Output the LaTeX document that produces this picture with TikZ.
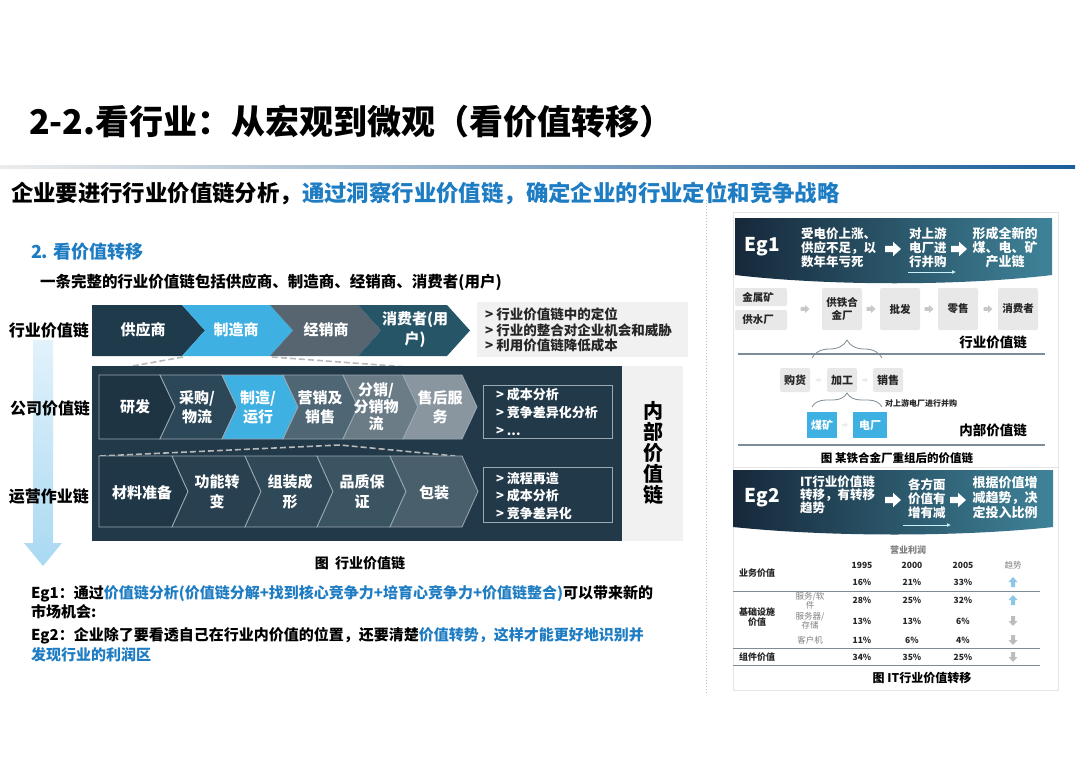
\documentclass[tikz,border=0pt]{standalone}
\usepackage{fontspec}
\setmainfont{Noto Sans CJK SC}
\usetikzlibrary{arrows.meta,decorations.pathreplacing}

\definecolor{tblue}{HTML}{1E7CC3}
\definecolor{lineblue}{HTML}{1B5E9B}
\definecolor{rdark}{HTML}{1F3A4B}
\definecolor{rlblue}{HTML}{3EB0E2}
\definecolor{rgray}{HTML}{56656F}
\definecolor{rteal}{HTML}{255567}
\definecolor{panel}{HTML}{22394A}
\definecolor{boxgray}{HTML}{F1F1F1}
\definecolor{cA}{HTML}{1E3443}
\definecolor{cB}{HTML}{2C4757}
\definecolor{cD}{HTML}{4F6674}
\definecolor{cE}{HTML}{6B7C87}
\definecolor{cF}{HTML}{8996A0}
\definecolor{dA}{HTML}{1F3746}
\definecolor{dB}{HTML}{28404F}
\definecolor{dC}{HTML}{2F4958}
\definecolor{dD}{HTML}{3A5462}
\definecolor{dE}{HTML}{4A5F6C}
\definecolor{cline}{HTML}{9AAAB4}
\definecolor{arrowA}{HTML}{E2F2FB}
\definecolor{arrowB}{HTML}{A9D9F2}
\definecolor{banA}{HTML}{16283A}
\definecolor{banB}{HTML}{3F8399}
\definecolor{chainbox}{HTML}{E8E8E8}
\definecolor{chainarr}{HTML}{C8C8C8}
\definecolor{txtdark}{HTML}{262626}
\definecolor{rulec}{HTML}{7D8C97}
\definecolor{upblue}{HTML}{8CC8E6}
\definecolor{dngray}{HTML}{BDBDBD}

\newcommand\fsz[2]{\fontsize{#1}{#2}\selectfont}
% xl, xr, depth, ytop, ybot, style, notch(0/1)
\newcommand\chev[7]{%
  \path[#6] (#1,#4) -- (#2,#4) -- ({#2+#3},{(#4+#5)/2}) -- (#2,#5) -- (#1,#5) -- ({#1+#7*#3},{(#4+#5)/2}) -- cycle;}
% right block arrow: cx, cy, half-size, color
\newcommand\rarr[4]{%
  \fill[#4] ({#1-#3},{#2-0.4*#3}) -- (#1,{#2-0.4*#3}) -- (#1,{#2-0.9*#3}) -- ({#1+#3},#2) -- (#1,{#2+0.9*#3}) -- (#1,{#2+0.4*#3}) -- ({#1-#3},{#2+0.4*#3}) -- cycle;}
% vertical block arrow: cx, cy, half-size, color, dir (+1 down, -1 up)
\newcommand\varr[5]{%
  \fill[#4] ({#1-0.4*#3},{#2-#5*#3}) -- ({#1+0.4*#3},{#2-#5*#3}) -- ({#1+0.4*#3},#2) -- ({#1+0.9*#3},#2) -- (#1,{#2+#5*#3}) -- ({#1-0.9*#3},#2) -- ({#1-0.4*#3},#2) -- cycle;}

\begin{document}
\begin{tikzpicture}[x=1pt,y=-1pt,
  every node/.style={inner sep=0pt,outer sep=0pt},
  chevtxt/.style={text=white,align=center,font=\fsz{15}{19}\bfseries},
  rowlab/.style={font=\fsz{16}{19}\bfseries,text=black},
  bantxt/.style={text=white,font=\fsz{12.5}{14}\bfseries},
  chainbx/.style={fill=chainbox,rounded corners=2pt},
  chaintxt/.style={text=txtdark,align=center,font=\fsz{10.5}{13}\bfseries},
  tval/.style={text=txtdark,font=\fsz{8.5}{10}\bfseries},
  tlab/.style={text=txtdark,align=center,font=\fsz{9}{9.5}\bfseries},
  tmid/.style={text=gray,align=center,font=\fsz{8.5}{9}},
  trule/.style={draw=rulec,line width=1}]
\useasboundingbox (0,0) rectangle (1080,763);
\fill[white] (0,0) rectangle (1080,763);

% ---------- title ----------
\node[anchor=west,font=\fsz{34}{40}\bfseries] (title) at (29,122) {2-2.看行业：从宏观到微观（看价值转移）};
\shade[left color=gray!15,right color=lineblue] (0,165.5) rectangle (1075,168.5);
\node[anchor=west,font=\fsz{22.4}{28}\bfseries] (sub) at (11,193) {企业要进行行业价值链分析，\textcolor{tblue}{通过洞察行业价值链，确定企业的行业定位和竞争战略}};

% ---------- left part ----------
\node[anchor=west,text=tblue,font=\fsz{18}{22}\bfseries] (h2) at (31,252) {2. 看价值转移};
\node[anchor=west,font=\fsz{15.5}{19}\bfseries] (intro) at (40,282) {一条完整的行业价值链包括供应商、制造商、经销商、消费者(用户)};

% vertical arrow
\shade[top color=arrowA,bottom color=arrowB] (33,340) -- (53,340) -- (53,543) -- (62,543) -- (43,566) -- (24,543) -- (33,543) -- cycle;

\node[rowlab] (lab1) at (49,330) {行业价值链};
\node[rowlab] (lab2) at (50,408) {公司价值链};
\node[rowlab] (lab3) at (49,497) {运营作业链};

% row 1 : industry chain
\chev{92}{182}{23}{305}{356}{fill=rdark}{0}
\chev{182}{270}{23}{305}{356}{fill=rlblue}{1}
\chev{270}{358}{23}{305}{356}{fill=rgray}{1}
\chev{358}{447}{23}{305}{356}{fill=rteal}{1}
\node[chevtxt] (s1) at (143,330) {供应商};
\node[chevtxt] (s2) at (236,330) {制造商};
\node[chevtxt] (s3) at (326,330) {经销商};
\node[chevtxt,font=\fsz{15}{20}\bfseries] (s4) at (415,330) {消费者(用\\户)};

\fill[boxgray] (477,302) rectangle (688,357);
\node[anchor=west,align=left,text=txtdark,font=\fsz{13.5}{15.5}\bfseries] (bul1) at (485,330) {> 行业价值链中的定位\\> 行业的整合对企业机会和威胁\\> 利用价值链降低成本};

% zoom dashed lines
\draw[gray!55,line width=1.6,dash pattern=on 6pt off 3pt] (183,357) -- (110,370);
\draw[gray!55,line width=1.6,dash pattern=on 6pt off 3pt] (272,357) -- (475,372);

% big panel
\fill[panel] (92,366) rectangle (622,541);
\fill[boxgray] (622,366) rectangle (683,541);
\node[align=center,font=\fsz{20}{21}\bfseries] (inner) at (653,453) {内\\部\\价\\值\\链};

% row 2 : company chain
\chev{99}{160}{15}{375}{439}{fill=cA,draw=cline,line width=0.8}{0}
\chev{160}{222}{15}{375}{439}{fill=cB,draw=cline,line width=0.8}{1}
\chev{222}{283}{15}{375}{439}{fill=rlblue,draw=cline,line width=0.8}{1}
\chev{283}{343}{15}{375}{439}{fill=cD,draw=cline,line width=0.8}{1}
\chev{343}{403}{15}{375}{439}{fill=cE,draw=cline,line width=0.8}{1}
\chev{403}{462}{15}{375}{439}{fill=cF,draw=cline,line width=0.8}{1}
\node[chevtxt] (p1) at (135,407) {研发};
\node[chevtxt] (p2) at (197,407) {采购/\\物流};
\node[chevtxt] (p3) at (258,407) {制造/\\运行};
\node[chevtxt] (p4) at (320,407) {营销及\\销售};
\node[chevtxt,font=\fsz{15}{17}\bfseries] (p5) at (376,407) {分销/\\分销物\\流};
\node[chevtxt] (p6) at (440,407) {售后服\\务};
\draw[cline,line width=1] (483,385) rectangle (612,438);
\node[anchor=west,align=left,text=white,font=\fsz{13}{18}\bfseries] (b2) at (496,412) {> 成本分析\\> 竞争差异化分析\\> ...};

% dashed zoom between rows
\draw[gray!55,line width=1.6,dash pattern=on 6pt off 3pt] (100,456) -- (340,445) -- (455,456);

% row 3 : operations chain
\chev{99}{172}{16}{456}{527}{fill=dA,draw=cline,line width=0.8}{0}
\chev{172}{245}{16}{456}{527}{fill=dB,draw=cline,line width=0.8}{1}
\chev{245}{317}{16}{456}{527}{fill=dC,draw=cline,line width=0.8}{1}
\chev{317}{390}{16}{456}{527}{fill=dD,draw=cline,line width=0.8}{1}
\chev{390}{462}{16}{456}{527}{fill=dE,draw=cline,line width=0.8}{1}
\node[chevtxt] (o1) at (142,493) {材料准备};
\node[chevtxt,font=\fsz{15}{20}\bfseries] (o2) at (217,492) {功能转\\变};
\node[chevtxt,font=\fsz{15}{20}\bfseries] (o3) at (290,492) {组装成\\形};
\node[chevtxt,font=\fsz{15}{20}\bfseries] (o4) at (362,492) {品质保\\证};
\node[chevtxt] (o5) at (434,493) {包装};
\draw[cline,line width=1] (483,467) rectangle (612,522);
\node[anchor=west,align=left,text=white,font=\fsz{13}{17.5}\bfseries] (b3) at (496,496) {> 流程再造\\> 成本分析\\> 竞争差异化};

\node[font=\fsz{14}{17}\bfseries] (cap1) at (360,563) {图\ \ 行业价值链};

\node[anchor=west,font=\fsz{15}{19}\bfseries] (eg1a) at (31,594) {Eg1：通过\textcolor{tblue}{价值链分析(价值链分解+找到核心竞争力+培育心竞争力+价值链整合)}可以带来新的};
\node[anchor=west,font=\fsz{15}{19}\bfseries] (eg1b) at (31,612) {市场机会:};
\node[anchor=west,font=\fsz{15}{19}\bfseries] (eg2a) at (31,636) {Eg2：企业除了要看透自己在行业内价值的位置，还要清楚\textcolor{tblue}{价值转势，这样才能更好地识别并}};
\node[anchor=west,font=\fsz{15}{19}\bfseries,text=tblue] (eg2b) at (31,655) {发现行业的利润区};

% ---------- right part ----------
\draw[gray!50,line width=1,dotted] (706,200) -- (706,695);
\draw[gray!20,line width=0.8] (733,212) rectangle (1058,467);
\draw[gray!20,line width=0.8] (733,467) rectangle (1058,690);

% Eg1 banner
\shade[left color=banA,right color=banB] (735,218) -- (1052,218) -- (1052,275) .. controls (960,286) and (830,286) .. (735,275) -- cycle;
\node[text=white,font=\fsz{19}{22}\bfseries] (eg1) at (762,247) {Eg1};
\node[bantxt,anchor=west,align=left] (e1t1) at (801,248) {受电价上涨、\\供应不足，以\\数年年亏死};
\rarr{893}{249}{8}{white}
\node[bantxt,anchor=west,align=left] (e1t2) at (909,248) {对上游\\电厂进\\行并购};
\rarr{959}{249}{8}{white}
\node[bantxt,align=center,font=\fsz{13}{14}\bfseries] (e1t3) at (1005,248) {形成全新的\\煤、电、矿\\产业链};
\coordinate (e1s) at (908,272);
\coordinate (e1e) at (956,272);
\draw[white!80!cyan,line width=0.8,-{Latex[length=4pt,width=4pt]}] (e1s) -- (e1e);

% industry chain in Eg1
\fill[chainbx] (735,288) rectangle (787,306);
\fill[chainbx] (735,310) rectangle (787,330);
\fill[chainbx] (822,288) rectangle (862,330);
\fill[chainbx] (880,288) rectangle (920,330);
\fill[chainbx] (938,288) rectangle (978,330);
\fill[chainbx] (998,288) rectangle (1038,330);
\node[chaintxt] (m1) at (758,297) {金属矿};
\node[chaintxt] (m2) at (758,320) {供水厂};
\node[chaintxt] (m3) at (842,309) {供铁合\\金厂};
\node[chaintxt] (m4) at (900,309) {批发};
\node[chaintxt] (m5) at (958,309) {零售};
\node[chaintxt] (m6) at (1018,309) {消费者};
\rarr{805}{309}{4.5}{chainarr}
\rarr{871}{309}{4.5}{chainarr}
\rarr{929}{309}{4.5}{chainarr}
\rarr{988}{309}{4.5}{chainarr}
\node[font=\fsz{13.5}{16}\bfseries] (ivc) at (993,342) {行业价值链};
\draw[decorate,decoration={brace,amplitude=18pt},rulec,line width=0.8] (812,358) -- (882,358);
\draw[rulec,line width=1.2] (738,354) -- (1045,354);

% internal chain in Eg1
\fill[chainbx] (780,368) rectangle (810,392);
\fill[chainbx] (827,368) rectangle (857,392);
\fill[chainbx] (873,368) rectangle (903,392);
\node[chaintxt,font=\fsz{11}{13}\bfseries] (n1) at (795,380) {购货};
\node[chaintxt,font=\fsz{11}{13}\bfseries] (n2) at (842,380) {加工};
\node[chaintxt,font=\fsz{11}{13}\bfseries] (n3) at (888,380) {销售};
\rarr{818.5}{380}{3}{gray!15}
\rarr{865}{380}{3}{gray!15}
\draw[decorate,decoration={brace,amplitude=14pt},rulec,line width=0.8] (812,407) -- (882,407);
\node[anchor=west,font=\fsz{8}{10}\bfseries,text=txtdark] (acq) at (885,403) {对上游电厂进行并购};
\fill[rlblue] (807,412) rectangle (837,438);
\fill[rlblue] (853,412) rectangle (887,438);
\node[chaintxt,text=white,font=\fsz{11}{13}\bfseries] (k1) at (822,425) {煤矿};
\node[chaintxt,text=white,font=\fsz{11}{13}\bfseries] (k2) at (870,425) {电厂};
\rarr{845}{425}{3}{gray!15}
\node[font=\fsz{13.5}{16}\bfseries] (invc) at (993,430) {内部价值链};
\draw[rulec,line width=1.2] (738,445) -- (1045,445);
\node[font=\fsz{11.5}{14}\bfseries] (cap2) at (897,458) {图\ 某铁合金厂重组后的价值链};

% Eg2 banner
\shade[left color=banA,right color=banB] (733,470) -- (1053,470) -- (1053,527) .. controls (960,537) and (830,537) .. (733,527) -- cycle;
\node[text=white,font=\fsz{19}{22}\bfseries] (eg2) at (762,498) {Eg2};
\node[bantxt,anchor=west,align=left,font=\fsz{12.5}{13}\bfseries] (e2t1) at (800,495) {IT行业价值链\\转移，有转移\\趋势};
\rarr{893}{500}{8}{white}
\node[bantxt,anchor=west,align=left,font=\fsz{12.5}{14}\bfseries] (e2t2) at (908,499) {各方面\\价值有\\增有减};
\rarr{958}{500}{8}{white}
\node[bantxt,align=center,font=\fsz{13}{15}\bfseries] (e2t3) at (1005,498) {根据价值增\\减趋势，决\\定投入比例};
\coordinate (e2s) at (903,525);
\coordinate (e2e) at (951,525);
\draw[white!80!cyan,line width=0.8,-{Latex[length=4pt,width=4pt]}] (e2s) -- (e2e);

% table
\node[text=gray,font=\fsz{9}{10}\bfseries] (th) at (908,550) {营业利润};
\node[tval] (y1) at (862,565) {1995};
\node[tval] (y2) at (912,565) {2000};
\node[tval] (y3) at (963,565) {2005};
\node[tmid] (y4) at (1013,565) {趋势};
\node[tlab] (l1) at (757,573) {业务价值};
\node[tval] (v11) at (862,582) {16\%};
\node[tval] (v12) at (912,582) {21\%};
\node[tval] (v13) at (963,582) {33\%};
\varr{1013}{582}{5}{upblue}{-1}
\draw[trule] (733,591) -- (1040,591);
\node[tmid] (l2a) at (810,601) {服务/软\\件};
\node[tval] (v21) at (862,600) {28\%};
\node[tval] (v22) at (912,600) {25\%};
\node[tval] (v23) at (963,600) {32\%};
\varr{1013}{600}{5}{upblue}{-1}
\node[tlab] (l2) at (757,617) {基础设施\\价值};
\node[tmid] (l2b) at (810,621) {服务器/\\存储};
\node[tval] (v31) at (862,621) {13\%};
\node[tval] (v32) at (912,621) {13\%};
\node[tval] (v33) at (963,621) {6\%};
\varr{1013}{621}{5}{dngray}{1}
\node[tmid] (l2c) at (810,640) {客户机};
\node[tval] (v41) at (862,640) {11\%};
\node[tval] (v42) at (912,640) {6\%};
\node[tval] (v43) at (963,640) {4\%};
\varr{1013}{640}{5}{dngray}{1}
\draw[trule] (733,648) -- (1040,648);
\node[tlab] (l3) at (757,657) {组件价值};
\node[tval] (v51) at (862,657) {34\%};
\node[tval] (v52) at (912,657) {35\%};
\node[tval] (v53) at (963,657) {25\%};
\varr{1013}{657}{5}{dngray}{1}
\draw[trule] (733,665) -- (1040,665);
\node[font=\fsz{12}{14}\bfseries] (cap3) at (922,678) {图\ IT行业价值转移};
\end{tikzpicture}
\end{document}
